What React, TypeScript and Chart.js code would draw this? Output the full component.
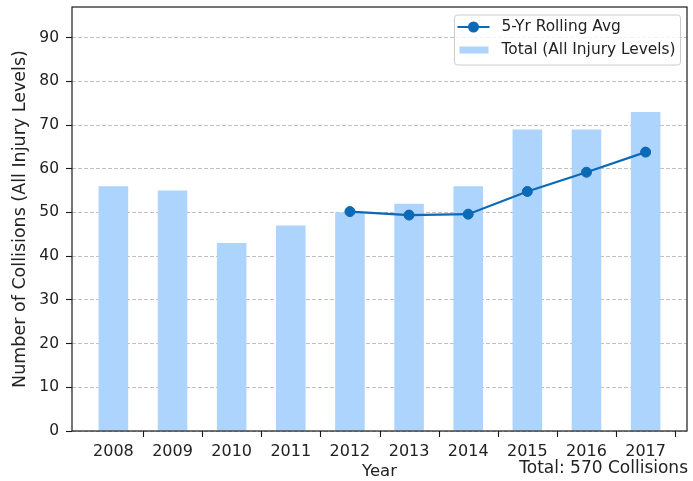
import React, { useEffect, useRef } from "react";
import { Chart, registerables } from "chart.js";

Chart.register(...registerables);

const YEARS = ["2008", "2009", "2010", "2011", "2012", "2013", "2014", "2015", "2016", "2017"];
const TOTALS = [56, 55, 43, 47, 50, 52, 56, 69, 69, 73];
const AVG_START_INDEX = 4; // 2012
const ROLLING_AVG = [50.2, 49.4, 49.6, 54.8, 59.2, 63.8];
const Y_TICKS = [0, 10, 20, 30, 40, 50, 60, 70, 80, 90];
const Y_MAX = 97;
const X_MIN = -0.7;
const X_MAX = 9.7;
const LINE_LABEL = "5-Yr Rolling Avg";
const BAR_LABEL = "Total (All Injury Levels)";
const Y_TITLE = "Number of Collisions (All Injury Levels)";
const X_TITLE = "Year";
const TOTAL_NOTE = "Total: 570 Collisions";

const FONT = "'DejaVu Sans', sans-serif";
const TEXT = "#222222";
const LINE_COLOR = "#0b69b6";
const BAR_COLOR = "rgb(172, 212, 252)";

const framePlugin = {
  id: "frame",
  afterDatasetsDraw(chart: any) {
    const { ctx, chartArea } = chart;
    const xs = chart.scales.x;
    ctx.save();
    ctx.strokeStyle = "#1a1a1a";
    ctx.lineWidth = 1.2;
    ctx.strokeRect(chartArea.left, chartArea.top, chartArea.right - chartArea.left, chartArea.bottom - chartArea.top);
    // x tick marks between categories
    ctx.lineWidth = 1.1;
    ctx.beginPath();
    for (let i = 0; i < YEARS.length; i++) {
      const x = Math.round(xs.getPixelForValue(i + 0.5)) + 0.5;
      ctx.moveTo(x, chartArea.bottom);
      ctx.lineTo(x, chartArea.bottom + 6);
    }
    ctx.stroke();
    ctx.restore();
  },
};

const legendPlugin = {
  id: "boxLegend",
  afterDraw(chart: any) {
    const { ctx, chartArea } = chart;
    const w = 226;
    const h = 50;
    const right = chartArea.right - 6.5;
    const left = right - w;
    const top = chartArea.top + 8;
    const r = 3;
    ctx.save();
    ctx.beginPath();
    ctx.moveTo(left + r, top);
    ctx.lineTo(left + w - r, top);
    ctx.quadraticCurveTo(left + w, top, left + w, top + r);
    ctx.lineTo(left + w, top + h - r);
    ctx.quadraticCurveTo(left + w, top + h, left + w - r, top + h);
    ctx.lineTo(left + r, top + h);
    ctx.quadraticCurveTo(left, top + h, left, top + h - r);
    ctx.lineTo(left, top + r);
    ctx.quadraticCurveTo(left, top, left + r, top);
    ctx.closePath();
    ctx.fillStyle = "rgba(255,255,255,0.8)";
    ctx.fill();
    ctx.strokeStyle = "#cccccc";
    ctx.lineWidth = 1;
    ctx.stroke();

    const y1 = top + 12;
    const y2 = top + 35;
    ctx.strokeStyle = LINE_COLOR;
    ctx.lineWidth = 2.2;
    ctx.beginPath();
    ctx.moveTo(left + 3, y1);
    ctx.lineTo(left + 35, y1);
    ctx.stroke();
    ctx.fillStyle = LINE_COLOR;
    ctx.beginPath();
    ctx.arc(left + 19, y1, 5.5, 0, Math.PI * 2);
    ctx.fill();

    ctx.fillStyle = BAR_COLOR;
    ctx.fillRect(left + 5, y2 - 3.5, 29, 7);

    ctx.fillStyle = TEXT;
    ctx.font = `15.4px ${FONT}`;
    ctx.textBaseline = "middle";
    ctx.textAlign = "left";
    ctx.fillText(LINE_LABEL, left + 47, y1);
    ctx.fillText(BAR_LABEL, left + 47, y2);

    ctx.textAlign = "right";
    ctx.font = `17px ${FONT}`;
    ctx.fillText(TOTAL_NOTE, chartArea.right + 1, 469);
    ctx.restore();
  },
};

export default function App() {
  const canvasRef = useRef<HTMLCanvasElement | null>(null);

  useEffect(() => {
    const canvas = canvasRef.current;
    if (!canvas) return;
    const chart = new Chart(canvas, {
      type: "bar",
      data: {
        datasets: [
          {
            type: "line",
            label: LINE_LABEL,
            data: ROLLING_AVG.map((v, i) => ({ x: AVG_START_INDEX + i, y: v })),
            borderColor: LINE_COLOR,
            backgroundColor: LINE_COLOR,
            borderWidth: 2.2,
            pointRadius: 5,
            pointBorderWidth: 1,
            pointBackgroundColor: LINE_COLOR,
            pointBorderColor: LINE_COLOR,
            tension: 0,
            order: 0,
          } as any,
          {
            type: "bar",
            label: BAR_LABEL,
            data: TOTALS.map((v, i) => ({ x: i, y: v })),
            backgroundColor: BAR_COLOR,
            borderWidth: 0,
            barPercentage: 0.5,
            categoryPercentage: 1,
            order: 1,
          } as any,
        ],
      },
      options: {
        responsive: false,
        animation: false,
        devicePixelRatio: 1,
        layout: { padding: { top: 7, right: 5.5, left: 0, bottom: 0 } },
        plugins: {
          legend: { display: false },
          tooltip: { enabled: false },
        },
        font: { family: FONT },
        scales: {
          x: {
            type: "linear",
            min: X_MIN,
            max: X_MAX,
            offset: false,
            afterBuildTicks: (scale: any) => {
              scale.ticks = YEARS.map((_, i) => ({ value: i }));
            },
            afterFit: (scale: any) => {
              scale.height = 50;
              scale.paddingLeft = 0;
              scale.paddingRight = 0;
            },
            grid: { display: false, offset: false, drawTicks: true, tickLength: 6 },
            border: { display: false },
            ticks: {
              color: TEXT,
              font: { family: FONT, size: 16 },
              padding: 5,
              maxRotation: 0,
              autoSkip: false,
              callback: (v: any) => YEARS[v] ?? "",
            },
            title: {
              display: true,
              text: X_TITLE,
              color: TEXT,
              font: { family: FONT, size: 16.5 },
              padding: { top: 0, bottom: -1 },
            },
          },
          y: {
            type: "linear",
            min: 0,
            max: Y_MAX,
            afterBuildTicks: (scale: any) => {
              scale.ticks = Y_TICKS.map((v) => ({ value: v }));
            },
            afterFit: (scale: any) => {
              scale.width = 72;
              scale.paddingTop = 0;
              scale.paddingBottom = 0;
            },
            grid: {
              color: "#b0b0b0",
              lineWidth: 0.8,
              drawTicks: true,
              tickLength: 6,
              tickColor: "#1a1a1a",
              tickWidth: 1.1,
              tickBorderDash: [],
            },
            border: { display: false, dash: [4, 2] },
            ticks: {
              color: TEXT,
              font: { family: FONT, size: 15.5 },
              padding: 7,
              autoSkip: false,
            },
            title: {
              display: true,
              text: Y_TITLE,
              color: TEXT,
              font: { family: FONT, size: 17.5 },
              padding: { top: 10, bottom: 0 },
            },
          },
        },
      },
      plugins: [framePlugin, legendPlugin],
    } as any);
    return () => chart.destroy();
  }, []);

  return (
    <div style={{ position: "absolute", left: 0, top: 0, width: 693, height: 481, background: "#fff" }}>
      <canvas ref={canvasRef} width={693} height={481} style={{ display: "block" }} />
    </div>
  );
}
